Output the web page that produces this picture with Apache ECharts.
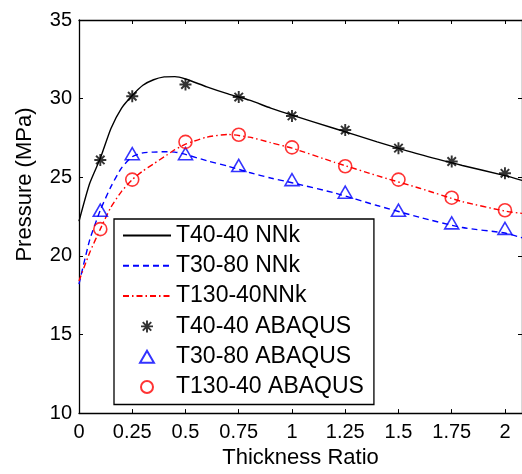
<!DOCTYPE html>
<html>
<head>
<meta charset="utf-8">
<script src="https://cdn.jsdelivr.net/npm/echarts@6/dist/echarts.min.js"></script>
<style>html,body{margin:0;padding:0;background:#fff;}#c{width:522px;height:474px;}</style>
</head>
<body>
<div id="c"></div>
<script>
// Neural-network (NNk) curves
const lineX = [0, 0.05, 0.1, 0.15, 0.2, 0.25, 0.3, 0.35, 0.4, 0.45, 0.5, 0.6, 0.7, 0.8, 0.9, 1.0, 1.2, 1.4, 1.6, 1.8, 2.0, 2.08];
const nnkT4040 = [22.2, 24.6, 26.2, 28.1, 29.4, 30.2, 30.85, 31.2, 31.38, 31.4, 31.25, 30.75, 30.3, 29.9, 29.4, 28.95, 28.1, 27.25, 26.45, 25.75, 25.1, 24.8];
const nnkT3080 = [18.2, 21.0, 22.9, 24.4, 25.6, 26.3, 26.55, 26.6, 26.62, 26.6, 26.45, 26.05, 25.7, 25.3, 24.95, 24.65, 24.0, 23.2, 22.45, 21.8, 21.45, 21.15];
const nnkT13040 = [18.4, 20.2, 21.7, 23.1, 24.1, 24.85, 25.4, 25.85, 26.3, 26.75, 27.1, 27.55, 27.72, 27.55, 27.2, 26.85, 25.95, 25.1, 24.3, 23.45, 22.85, 22.7];
// ABAQUS points
const abaqusX = [0.1, 0.25, 0.5, 0.75, 1, 1.25, 1.5, 1.75, 2];
const abaT4040 = [26.1, 30.15, 30.9, 30.1, 28.9, 28.0, 26.85, 26.0, 25.25];
const abaT3080 = [22.9, 26.5, 26.5, 25.75, 24.85, 24.05, 22.9, 22.1, 21.75];
const abaT13040 = [21.7, 24.85, 27.25, 27.7, 26.9, 25.7, 24.85, 23.7, 22.9];
const seriesNames = ['T40-40 NNk', 'T30-80 NNk', 'T130-40NNk', 'T40-40 ABAQUS', 'T30-80 ABAQUS', 'T130-40 ABAQUS'];

const pair = (xs, ys) => xs.map((x, i) => [x, ys[i]]);
const FONT = '"Liberation Sans", Arial, sans-serif';
const STAR = 'path://M-1.6,-10 L1.6,-10 L1.6,10 L-1.6,10 Z M-10,-1.6 L10,-1.6 L10,1.6 L-10,1.6 Z M-8.2,-5.9 L-5.9,-8.2 L8.2,5.9 L5.9,8.2 Z M5.9,-8.2 L8.2,-5.9 L-5.9,8.2 L-8.2,5.9 Z';
const TRI = 'path://M0,-10 L11,9 L-11,9 Z';

const chart = echarts.init(document.getElementById('c'), null, {renderer: 'canvas'});
const axisCommon = {
  axisLine: {show: true, onZero: false, lineStyle: {color: '#000', width: 1.3}},
  axisTick: {show: true, inside: true, length: 4, lineStyle: {color: '#000', width: 1}},
  splitLine: {show: false}
};
chart.setOption({
  animation: false,
  backgroundColor: '#fff',
  textStyle: {fontFamily: FONT},
  grid: {left: 79, top: 20, right: -1, bottom: 59, containLabel: false},
  xAxis: [
    Object.assign({}, axisCommon, {
      type: 'value', min: 0, max: 2.08, interval: 0.25, position: 'bottom',
      name: 'Thickness Ratio', nameLocation: 'middle', nameGap: 32,
      nameTextStyle: {fontSize: 22, color: '#000', fontFamily: FONT},
      axisLabel: {fontSize: 20, color: '#000', margin: 9, showMaxLabel: false, fontFamily: FONT}
    }),
    Object.assign({}, axisCommon, {
      type: 'value', min: 0, max: 2.08, interval: 0.25, position: 'top',
      axisLabel: {show: false}
    })
  ],
  yAxis: [
    Object.assign({}, axisCommon, {
      type: 'value', min: 10, max: 35, interval: 5, position: 'left',
      name: 'Pressure (MPa)', nameLocation: 'middle', nameGap: 43,
      nameTextStyle: {fontSize: 22, color: '#000', fontFamily: FONT, padding: [0, 0, 0, 64]},
      axisLabel: {fontSize: 20, color: '#000', margin: 7, fontFamily: FONT}
    }),
    Object.assign({}, axisCommon, {
      type: 'value', min: 10, max: 35, interval: 5, position: 'right',
      axisLabel: {show: false}
    })
  ],
  legend: {
    orient: 'vertical', left: 114, top: 219,
    data: [
      {name: seriesNames[0], itemStyle: {opacity: 0}},
      {name: seriesNames[1], itemStyle: {opacity: 0}},
      {name: seriesNames[2], itemStyle: {opacity: 0}},
      {name: seriesNames[3]},
      {name: seriesNames[4]},
      {name: seriesNames[5]}
    ],
    itemWidth: 48, itemHeight: 12, itemGap: 7.3,
    symbolKeepAspect: true,
    padding: [5, 10, 6, 8],
    backgroundColor: '#fff', borderColor: '#000', borderWidth: 1.3,
    textStyle: {fontSize: 23, color: '#000', fontFamily: FONT, lineHeight: 22}
  },
  series: [
    {name: seriesNames[0], type: 'line', data: pair(lineX, nnkT4040), symbol: 'none', smooth: 0.2,
      lineStyle: {color: '#000', width: 1.4, type: 'solid'}, itemStyle: {color: '#000'}, z: 3},
    {name: seriesNames[1], type: 'line', data: pair(lineX, nnkT3080), symbol: 'none', smooth: 0.2,
      lineStyle: {color: '#0000ff', width: 1.4, type: [6, 4]}, itemStyle: {color: '#0000ff'}, z: 3},
    {name: seriesNames[2], type: 'line', data: pair(lineX, nnkT13040), symbol: 'none', smooth: 0.2,
      lineStyle: {color: '#ff0000', width: 1.4, type: [6, 3, 1.5, 3]}, itemStyle: {color: '#ff0000'}, z: 3},
    {name: seriesNames[3], type: 'scatter', data: pair(abaqusX, abaT4040), symbol: STAR, symbolSize: 12,
      symbolKeepAspect: true, itemStyle: {color: '#000'}, z: 4},
    {name: seriesNames[4], type: 'scatter', data: pair(abaqusX, abaT3080), symbol: TRI, symbolSize: 14,
      symbolKeepAspect: true,
      itemStyle: {color: 'rgba(255,255,255,0)', borderColor: '#0000ff', borderWidth: 1.6}, z: 4},
    {name: seriesNames[5], type: 'scatter', data: pair(abaqusX, abaT13040), symbol: 'circle', symbolSize: 13,
      itemStyle: {color: 'rgba(255,255,255,0)', borderColor: '#ff0000', borderWidth: 1.6}, z: 4}
  ]
});
</script>
</body>
</html>
